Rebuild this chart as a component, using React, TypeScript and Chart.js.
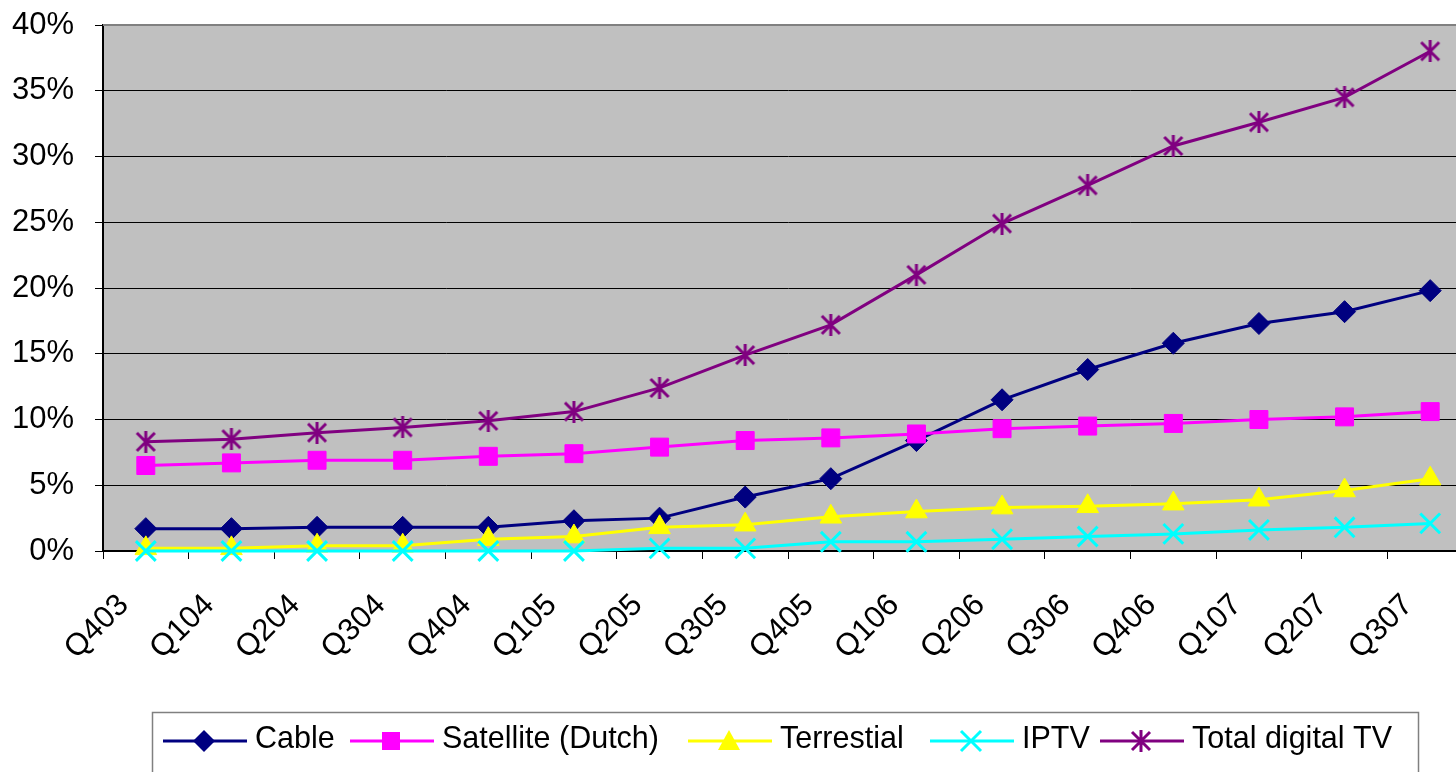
import React, { useEffect, useRef } from 'react';
import { Chart, registerables } from 'chart.js';

Chart.register(...registerables);

const categories = ['Q403', 'Q104', 'Q204', 'Q304', 'Q404', 'Q105', 'Q205', 'Q305', 'Q405', 'Q106', 'Q206', 'Q306', 'Q406', 'Q107', 'Q207', 'Q307'];
const seriesNames = ['Cable', 'Satellite (Dutch)', 'Terrestial', 'IPTV', 'Total digital TV'];
const cable = [1.7, 1.7, 1.8, 1.8, 1.8, 2.3, 2.5, 4.1, 5.5, 8.4, 11.5, 13.8, 15.8, 17.3, 18.2, 19.8];
const satellite = [6.5, 6.7, 6.9, 6.9, 7.2, 7.4, 7.9, 8.4, 8.6, 8.9, 9.3, 9.5, 9.7, 10.0, 10.2, 10.6];
const terrestial = [0.2, 0.2, 0.4, 0.4, 0.9, 1.1, 1.8, 2.0, 2.6, 3.0, 3.3, 3.4, 3.6, 3.9, 4.6, 5.5];
const iptv = [0, 0, 0, 0, 0, 0, 0.2, 0.2, 0.7, 0.7, 0.9, 1.1, 1.3, 1.6, 1.8, 2.1];
const totalDigitalTV = [8.3, 8.5, 9.0, 9.4, 9.9, 10.6, 12.4, 14.9, 17.2, 21.0, 24.9, 27.8, 30.8, 32.6, 34.5, 38.0];
const yTicks = [0, 5, 10, 15, 20, 25, 30, 35, 40];

const FONT = '"Liberation Sans", Arial, Helvetica, sans-serif';
const colors = ['#000080', '#FF00FF', '#FFFF00', '#00FFFF', '#800080'];
const markers = ['diamond', 'square', 'triangle', 'x', 'star'];

function makeStar(color: string) {
  const c = document.createElement('canvas');
  c.width = 22;
  c.height = 22;
  const g = c.getContext('2d')!;
  g.strokeStyle = color;
  g.lineWidth = 3;
  g.beginPath();
  g.moveTo(11, 0);
  g.lineTo(11, 22);
  g.moveTo(2, 2);
  g.lineTo(20, 20);
  g.moveTo(20, 2);
  g.lineTo(2, 20);
  g.stroke();
  return c;
}

function drawMarker(ctx: CanvasRenderingContext2D, kind: string, x: number, y: number, color: string, star: HTMLCanvasElement) {
  ctx.save();
  ctx.fillStyle = color;
  ctx.strokeStyle = color;
  ctx.lineWidth = 3;
  ctx.beginPath();
  if (kind === 'diamond') {
    const r = 11;
    ctx.moveTo(x - r, y);
    ctx.lineTo(x, y - r);
    ctx.lineTo(x + r, y);
    ctx.lineTo(x, y + r);
    ctx.closePath();
    ctx.fill();
  } else if (kind === 'square') {
    ctx.rect(x - 9, y - 9, 18, 18);
    ctx.fill();
  } else if (kind === 'triangle') {
    ctx.moveTo(x, y - 11);
    ctx.lineTo(x + 11, y + 9);
    ctx.lineTo(x - 11, y + 9);
    ctx.closePath();
    ctx.fill();
  } else if (kind === 'x') {
    const d = 10;
    ctx.moveTo(x - d, y - d);
    ctx.lineTo(x + d, y + d);
    ctx.moveTo(x + d, y - d);
    ctx.lineTo(x - d, y + d);
    ctx.stroke();
  } else {
    ctx.drawImage(star, x - star.width / 2, y - star.height / 2);
  }
  ctx.restore();
}

export default function App() {
  const ref = useRef<HTMLCanvasElement>(null);

  useEffect(() => {
    const star = makeStar('#800080');
    const legendStarts = [163, 350, 688, 930, 1100];

    const decor = {
      id: 'decor',
      beforeDraw(chart: any) {
        const { ctx, chartArea: a } = chart;
        ctx.save();
        ctx.fillStyle = '#C0C0C0';
        ctx.fillRect(a.left, a.top, a.right - a.left, a.bottom - a.top);
        ctx.restore();
      },
      beforeDatasetsDraw(chart: any) {
        const { ctx, chartArea: a } = chart;
        ctx.save();
        ctx.strokeStyle = '#808080';
        ctx.lineWidth = 2;
        ctx.beginPath();
        ctx.moveTo(a.left, a.top);
        ctx.lineTo(a.right, a.top);
        ctx.stroke();
        ctx.restore();
      },
      afterDraw(chart: any) {
        const ctx: CanvasRenderingContext2D = chart.ctx;
        ctx.save();
        ctx.strokeStyle = '#808080';
        ctx.lineWidth = 1.5;
        ctx.strokeRect(152.5, 712.5, 1418 - 152, 120);
        const ly = 741;
        ctx.font = `30.5px ${FONT}`;
        ctx.textBaseline = 'middle';
        ctx.textAlign = 'left';
        seriesNames.forEach((name, i) => {
          const x0 = legendStarts[i];
          ctx.strokeStyle = colors[i];
          ctx.lineWidth = 3;
          ctx.beginPath();
          ctx.moveTo(x0, ly);
          ctx.lineTo(x0 + 84, ly);
          ctx.stroke();
          drawMarker(ctx, markers[i], x0 + 41, ly, colors[i], star);
          ctx.fillStyle = '#000';
          ctx.fillText(name, x0 + 92, ly - 1);
        });
        ctx.restore();
      },
    };

    const seriesData = [cable, satellite, terrestial, iptv, totalDigitalTV];
    const pointStyles: any[] = ['rectRot', 'rect', 'triangle', 'crossRot', star];
    const pointRadii = [11, 12.7, 12.5, 14, 11];

    const chart = new Chart(ref.current!, {
      type: 'line',
      data: {
        labels: categories,
        datasets: seriesData.map((d, i) => ({
          label: seriesNames[i],
          data: d,
          borderColor: colors[i],
          backgroundColor: colors[i],
          pointBackgroundColor: colors[i],
          pointBorderColor: colors[i],
          pointStyle: pointStyles[i],
          pointRadius: pointRadii[i],
          pointBorderWidth: i === 3 ? 3 : 1,
          borderWidth: 3,
          tension: 0,
          clip: false as any,
          order: 4 - i,
        })),
      },
      plugins: [decor],
      options: {
        responsive: false,
        animation: false,
        devicePixelRatio: 1,
        layout: { autoPadding: false, padding: { left: 0, top: 25, right: 1, bottom: 61 } },
        plugins: { legend: { display: false }, tooltip: { enabled: false } },
        scales: {
          x: {
            type: 'category',
            offset: true,
            grid: { offset: true, drawOnChartArea: false, drawTicks: true, tickLength: 8, color: '#000', lineWidth: 1 },
            border: { color: '#000', width: 1.5 },
            ticks: {
              autoSkip: false,
              maxRotation: 45,
              minRotation: 45,
              padding: 28,
              labelOffset: -22,
              color: '#000',
              font: { family: FONT, size: 31 },
            },
            afterFit: (s: any) => {
              s.height = 160;
              s.paddingLeft = 0;
              s.paddingRight = 0;
            },
          },
          y: {
            min: 0,
            max: 40,
            afterBuildTicks: (s: any) => {
              s.ticks = yTicks.map((v) => ({ value: v }));
            },
            grid: { color: '#000', lineWidth: 1, tickLength: 8, drawTicks: true },
            border: { color: '#000', width: 2 },
            ticks: {
              padding: 21,
              color: '#000',
              font: { family: FONT, size: 31 },
              callback: (v: any) => `${v}%`,
            },
            afterFit: (s: any) => {
              s.width = 103;
              s.paddingTop = 0;
              s.paddingBottom = 0;
            },
          },
        },
      },
    });
    return () => chart.destroy();
  }, []);

  return (
    <div style={{ position: 'fixed', left: 0, top: 0, width: 1456, height: 772, overflow: 'hidden', background: '#fff' }}>
      <canvas ref={ref} width={1474} height={772} style={{ display: 'block' }} />
    </div>
  );
}
